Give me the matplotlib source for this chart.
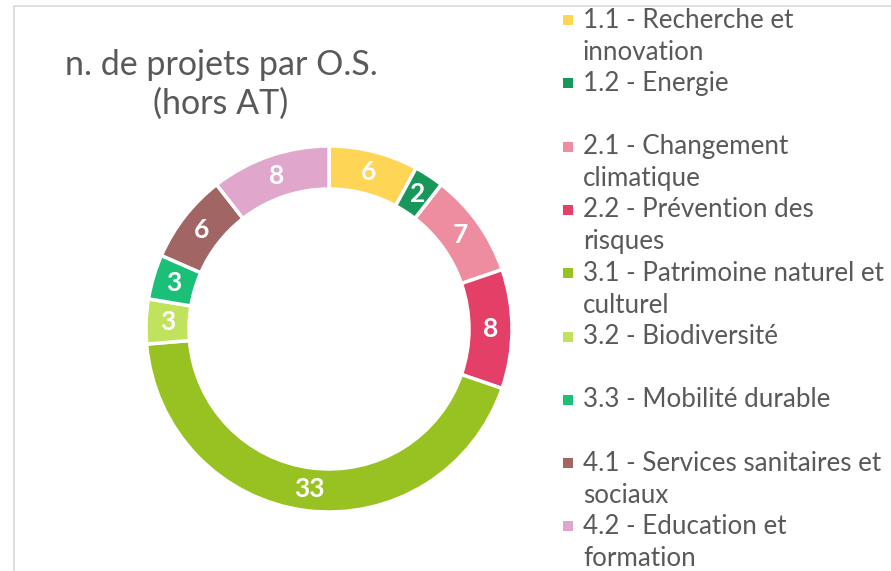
import matplotlib.pyplot as plt
from matplotlib.patches import Rectangle

plt.rcParams['font.family'] = ['Lato', 'DejaVu Sans']

labels = ["1.1 - Recherche et\ninnovation", "1.2 - Energie",
          "2.1 - Changement\nclimatique", "2.2 - Prévention des\nrisques",
          "3.1 - Patrimoine naturel et\nculturel", "3.2 - Biodiversité",
          "3.3 - Mobilité durable", "4.1 - Services sanitaires et\nsociaux",
          "4.2 - Education et\nformation"]
values = [6, 2, 7, 8, 33, 3, 3, 6, 8]
colors = ["#FFD556", "#17985A", "#EE8CA0", "#E43F66", "#98C221",
          "#C1E25D", "#1BBF78", "#A16563", "#E0A6CB"]
title = "n. de projets par O.S.\n(hors AT)"

W, H = 891, 571
fig = plt.figure(figsize=(W / 100, H / 100), dpi=100)

# light frame of the chart area
fig.patches.append(Rectangle((14 / W, -0.1), 2, 1 - 6 / H + 0.1, transform=fig.transFigure,
                             fill=False, edgecolor="#d9d9d9", linewidth=1.2))

cx, cy, r = 329, 329, 183
ax = fig.add_axes([(cx - r) / W, (H - cy - r) / H, 2 * r / W, 2 * r / H])
total = sum(values)
ring = 43 / r
wedges, texts, autotexts = ax.pie(
    values, colors=colors, startangle=90, counterclock=False, radius=1,
    wedgeprops=dict(width=ring, edgecolor="white", linewidth=2.5),
    autopct=lambda p: f"{round(p * total / 100)}", pctdistance=1 - ring / 2,
    textprops=dict(color="white", fontsize=19, fontweight="bold"))
ax.set_xlim(-1, 1)
ax.set_ylim(-1, 1)
ax.axis("off")

fig.text(221 / W, 1 - 84 / H, title, ha="center", va="center", fontsize=24.5,
         color="#595959", linespacing=1.25)

# legend, two text lines per entry
y0, step, lh = 20, 63.3, 32
for i, (lab, col) in enumerate(zip(labels, colors)):
    y = y0 + step * i
    fig.patches.append(Rectangle(((568 - 5) / W, 1 - (y + 5) / H), 10 / W, 10 / H,
                                 transform=fig.transFigure, facecolor=col, edgecolor="none"))
    for j, line in enumerate(lab.split("\n")):
        fig.text(583 / W, 1 - (y + lh * j) / H, line, ha="left", va="center",
                 fontsize=18.7, color="#595959")

fig.savefig("out.png", dpi=100)
